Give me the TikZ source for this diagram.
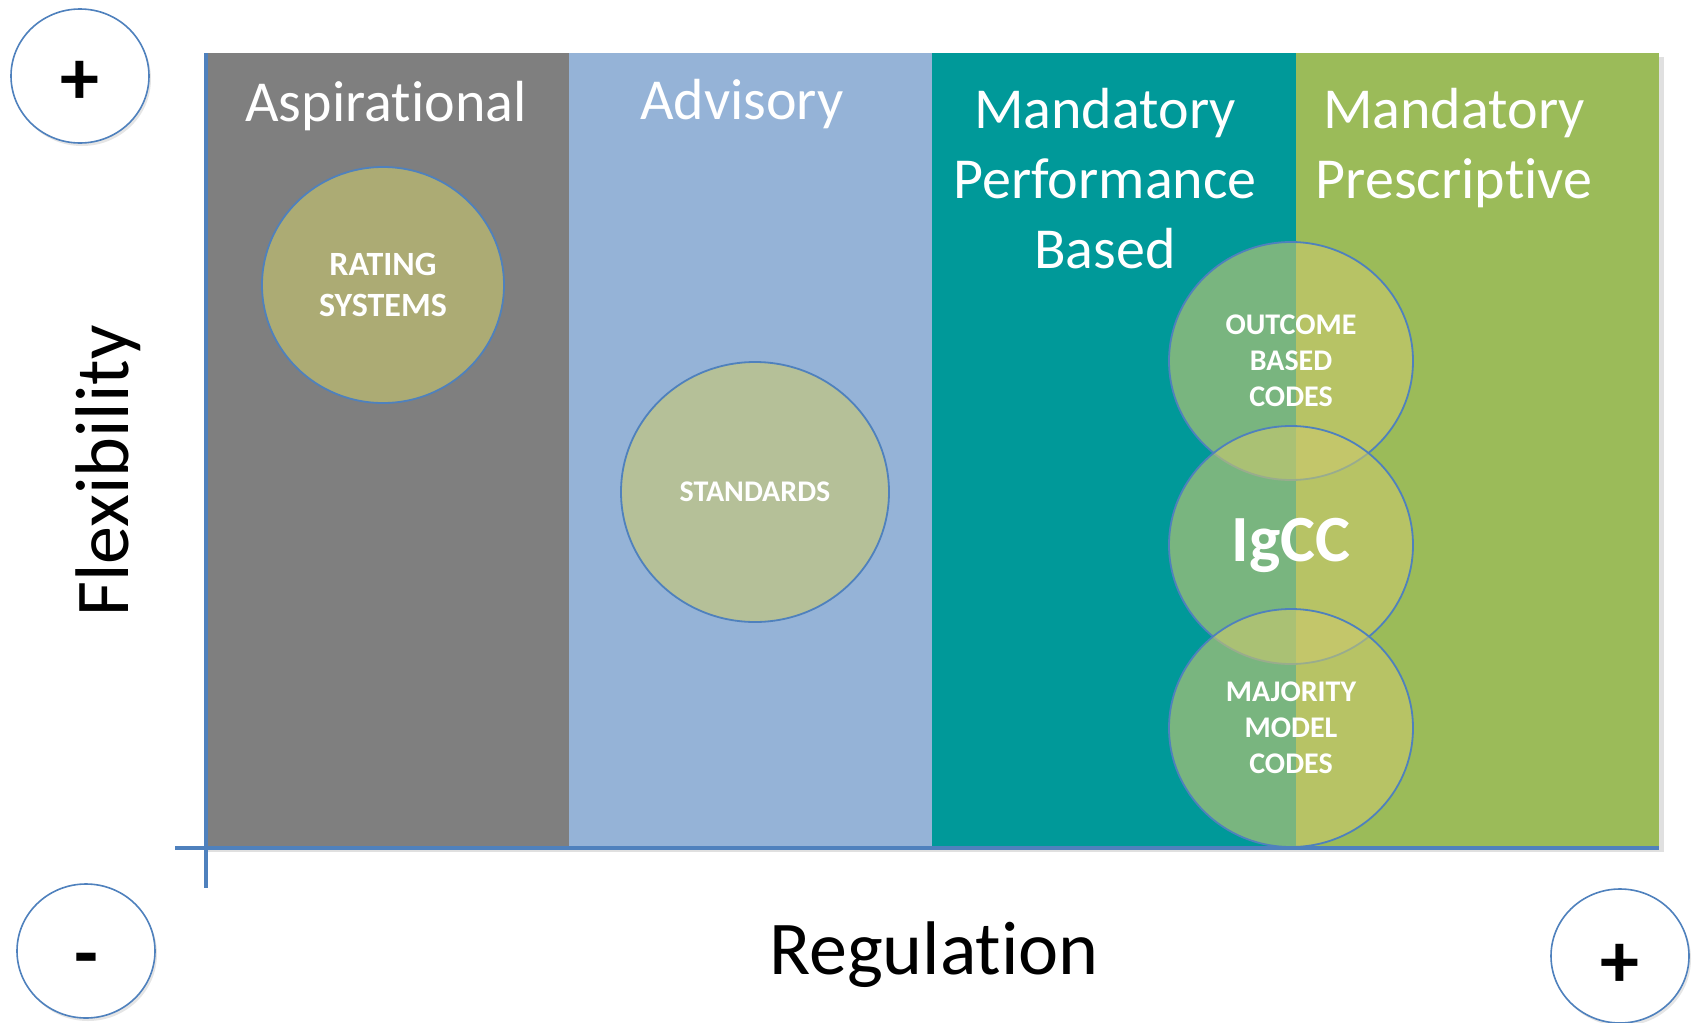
\documentclass[tikz,border=0pt]{standalone}
\usepackage{fontspec}
\setmainfont{Carlito}[Ligatures=NoCommon]
\usetikzlibrary{shapes.geometric,shadows}
\definecolor{cgray}{RGB}{127,127,127}
\definecolor{cblue}{RGB}{149,179,215}
\definecolor{cteal}{RGB}{0,153,153}
\definecolor{cgreen}{RGB}{155,187,89}
\definecolor{cline}{RGB}{79,129,189}
\definecolor{cfill}{RGB}{203,201,110}
\begin{document}
\begin{tikzpicture}[x=1pt,y=-1pt,
  ttl/.style={text=white, font=\fontsize{58}{70}\selectfont, align=center, inner sep=0, anchor=north},
  ring/.style={ellipse, draw=cline, line width=1.8pt, fill=cfill, fill opacity=0.6, draw opacity=1, text opacity=1,
    text=white, inner sep=0, align=center, font=\bfseries\fontsize{30}{36}\selectfont},
  sign/.style={ellipse, draw=cline, line width=1.6pt, fill=white, inner sep=0,
    minimum width=138pt, minimum height=134pt,
    drop shadow={shadow xshift=2pt, shadow yshift=-3pt, opacity=0.2}},
  signtxt/.style={inner sep=0, font=\bfseries\fontsize{78}{80}\selectfont},
  axis/.style={draw=cline, line width=4pt},
  big/.style={font=\fontsize{76}{90}\selectfont, inner sep=0}
]
\useasboundingbox (0,0) rectangle (1698,1023);
\fill[white] (0,0) rectangle (1698,1023);
% panel shadow
\fill[black, opacity=0.12] (208,57) rectangle (1664,852);
% columns
\fill[cgray]  (204,53) rectangle (569,847);
\fill[cblue]  (569,53) rectangle (932,847);
\fill[cteal]  (932,53) rectangle (1296,847);
\fill[cgreen] (1296,53) rectangle (1659,847);
% titles
\node[ttl] (asp) at (386,81) {Aspirational};
\node[ttl] (adv) at (742,79) {Advisory};
\node[ttl] (mpb) at (1105,88) {Mandatory\\Performance\\Based};
\node[ttl] (mpr) at (1454,88) {Mandatory\\Prescriptive};
% circles
\node[ring, minimum width=242pt, minimum height=236pt, font=\bfseries\fontsize{34}{41}\selectfont] (rating) at (383,285) {RATING\\SYSTEMS};
\node[ring, minimum width=268pt, minimum height=260pt] (std) at (755,492) {STANDARDS};
\node[ring, minimum width=244pt, minimum height=238pt] (obc) at (1291,361) {OUTCOME\\BASED\\CODES};
\node[ring, minimum width=244pt, minimum height=238pt, font=\bfseries\fontsize{66}{70}\selectfont] (igcc) at (1291,545) {IgCC};
\node[ring, minimum width=244pt, minimum height=238pt] (mmc) at (1291,728) {MAJORITY\\MODEL\\CODES};
% axes
\coordinate (ytop) at (206,53);
\coordinate (ybot) at (206,888);
\coordinate (xl) at (175,848);
\coordinate (xr) at (1659,848);
\draw[axis, line width=3.5pt] (ytop) -- (ybot);
\draw[axis] (xl) -- (xr);
% sign circles
\node[sign] (plusy) at (80,76) {};
\node[sign] (minus) at (86,951) {};
\node[sign] (plusx) at (1620,956) {};
\node[signtxt] (plusyt) at (80,83) {+};
\node[signtxt] (minust) at (86,966) {-};
\node[signtxt] (plusxt) at (1620,966) {+};
% axis labels
\node[big] (reg) at (934,955) {Regulation};
\node[big, rotate=90] (flex) at (108,471) {Flexibility};
\end{tikzpicture}
\end{document}
